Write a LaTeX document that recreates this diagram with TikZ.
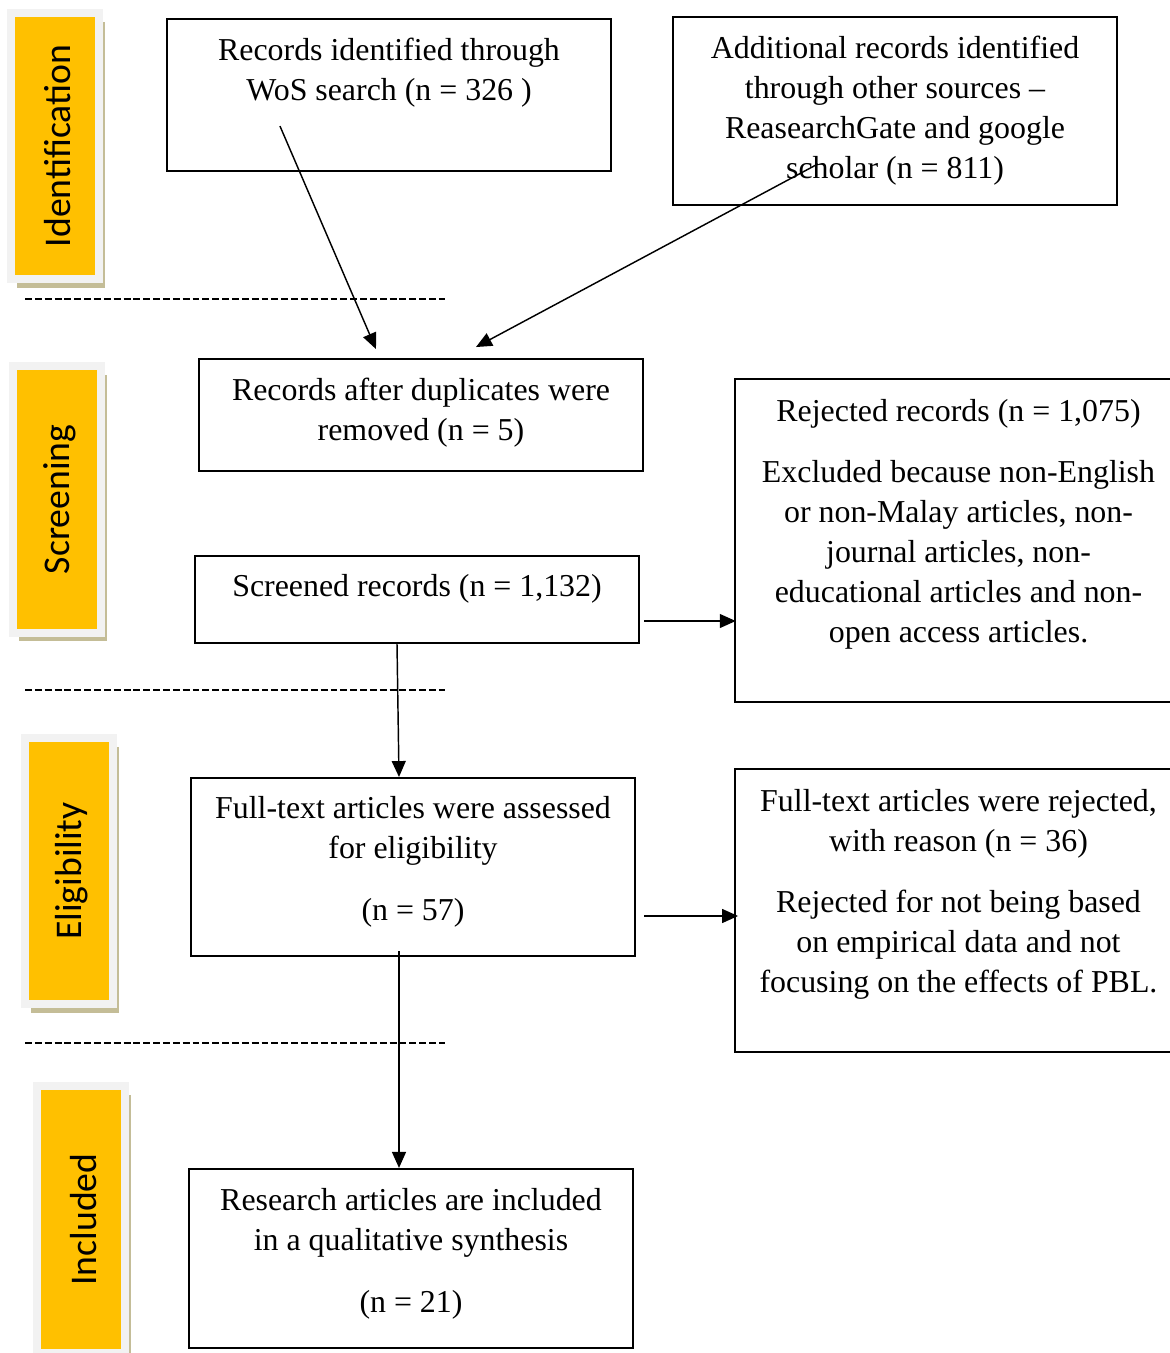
\documentclass[tikz,border=0pt]{standalone}
\usepackage{fontspec}
\setmainfont{Liberation Serif}
\newfontfamily\stagefont{Carlito}
\usetikzlibrary{positioning,calc,arrows.meta,shadows}
\definecolor{stageorange}{RGB}{255,192,0}
\definecolor{stagerim}{RGB}{242,242,242}
\definecolor{stageshadow}{RGB}{196,189,151}

\begin{document}
\begin{tikzpicture}[x=0.345pt,y=-0.345pt,
  box/.style={draw,line width=0.7pt,inner sep=0pt},
  txt/.style={align=center,inner sep=0pt,font=\fontsize{11}{13.8}\selectfont},
  stage/.style={fill=stageorange,draw=stagerim,line width=2.76pt,minimum width=30.4pt,minimum height=91.8pt,inner sep=0pt,
    font=\stagefont\fontsize{13}{15}\selectfont,drop shadow={shadow xshift=2pt,shadow yshift=-3pt,fill=stageshadow,opacity=1}},
  arr/.style={-{Triangle[length=5.5pt,width=4.8pt]},line width=0.5pt},
  sep/.style={line width=0.7pt,dash pattern=on 2.4pt off 1pt}]
\useasboundingbox (0,0) rectangle (1170,1353);

% stages
\node[stage] (ident) at (55,146) {\hspace{2pt}\rotatebox{90}{Identification}};
\node[stage] (screen) at (57,499.5) {\hspace{2pt}\rotatebox{90}{Screening}};
\node[stage] (elig) at (69,871) {\hspace{2pt}\rotatebox{90}{Eligibility}};
\node[stage] (incl) at (81,1219.5) {\hspace{2pt}\rotatebox{90}{Included}};

\foreach \y in {299,690,1043}
  \draw[sep] (25,\y) -- (445,\y);

% boxes
\node[box,minimum width=153.2pt,minimum height=52.4pt] (wos) at (389,95) {};
\node[box,minimum width=153.2pt,minimum height=64.9pt] (add) at (895,111) {};
\node[box,minimum width=153.2pt,minimum height=38.6pt] (dup) at (421,415) {};
\node[box,minimum width=153.2pt,minimum height=30pt] (scr) at (417,599.5) {};
\node[box,minimum width=154.2pt,minimum height=111.4pt] (rej) at (958.5,540.5) {};
\node[box,minimum width=153.2pt,minimum height=61.4pt] (ass) at (413,867) {};
\node[box,minimum width=154.2pt,minimum height=97.6pt] (ftr) at (958.5,910.5) {};
\node[box,minimum width=153.2pt,minimum height=61.8pt] (inc) at (411,1258.5) {};

\node[txt,below=6.8pt of wos.north] (wostext) {Records identified through\\WoS search (n = 326 )};
\node[txt,below=6.8pt of add.north] (addtext) {Additional records identified\\through other sources --\\ReasearchGate and google\\scholar (n = 811)};
\node[txt,below=6.8pt of dup.north] (duptext) {Records after duplicates were\\removed (n = 5)};
\node[txt,below=6.6pt of scr.north] (scrtext) {Screened records (n = 1,132)};
\node[txt,below=7pt of rej.north] (rejtext) {Rejected records (n = 1,075)\\[7.3pt]Excluded because non-English\\or non-Malay articles, non-\\journal articles, non-\\educational articles and non-\\open access articles.};
\node[txt,below=6.6pt of ass.north] (asstext) {Full-text articles were assessed\\for eligibility\\[7.3pt](n = 57)};
\node[txt,below=7pt of ftr.north] (ftrtext) {Full-text articles were rejected,\\with reason (n = 36)\\[7.3pt]Rejected for not being based\\on empirical data and not\\focusing on the effects of PBL.};
\node[txt,below=7pt of inc.north] (inctext) {Research articles are included\\in a qualitative synthesis\\[7.3pt](n = 21)};

% arrows
\coordinate (wosout) at ($(wos.north west)+(114,108)$);
\coordinate (addout) at ($(add.north west)+(146,148)$);
\coordinate (scrout) at ($(scr.north east)+(4,66)$);
\coordinate (assout) at ($(ass.east)+(8,49)$);
\draw[arr] (wosout) -- ($(dup.north west)+(178,-9)$);
\draw[arr] (addout) -- ($(dup.north west)+(278,-11)$);
\draw[arr] (scrout) -- ([xshift=0.6pt]scrout -| rej.west);
\draw[arr] ($(scr.south)+(-20,0)$) -- ($(ass.north)+(-14,0)$);
\draw[arr] (assout) -- ([xshift=1.4pt]assout -| ftr.west);
\draw[arr] ($(ass.south)+(-14,-6)$) -- ($(inc.north)+(-12,0)$);
\end{tikzpicture}
\end{document}
